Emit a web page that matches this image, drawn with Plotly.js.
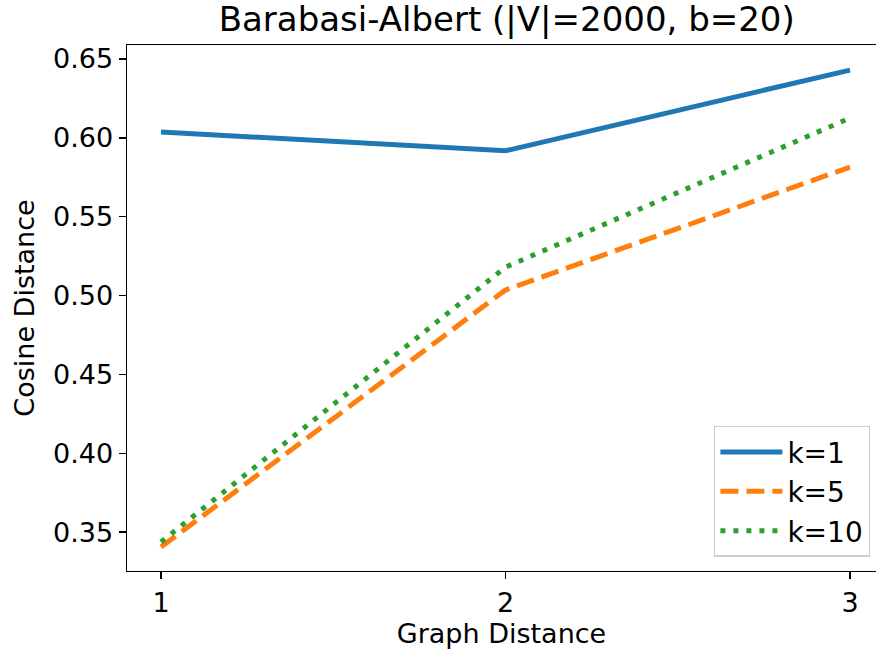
<!DOCTYPE html>
<html>
<head>
<meta charset="utf-8">
<script src="https://cdn.plot.ly/plotly-3.0.1.min.js"></script>
<style>html,body{margin:0;padding:0;background:#fff;}#chart{width:876px;height:651px;}</style>
</head>
<body>
<div id="chart"></div>
<script>
const graphDistance = [1, 2, 3];
const k1 = [0.6037, 0.5918, 0.6430];
const k5 = [0.3405, 0.5035, 0.5815];
const k10 = [0.3437, 0.5180, 0.6126];
const seriesNames = ["k=1", "k=5", "k=10"];
const yTicks = [0.35, 0.40, 0.45, 0.50, 0.55, 0.60, 0.65];
const xTicks = [1, 2, 3];

const font = "DejaVu Sans, sans-serif";
const traces = [
  {x: graphDistance, y: k1, name: seriesNames[0], mode: "lines",
   line: {color: "#1f77b4", width: 5}},
  {x: graphDistance, y: k5, name: seriesNames[1], mode: "lines",
   line: {color: "#ff7f0e", width: 5, dash: "18px,8px"}},
  {x: graphDistance, y: k10, name: seriesNames[2], mode: "lines",
   line: {color: "#2ca02c", width: 5, dash: "5px,8px"}}
];
const layout = {
  width: 876, height: 651,
  margin: {l: 127, r: 0, t: 45, b: 80},
  paper_bgcolor: "#fff", plot_bgcolor: "#fff",
  font: {family: font, color: "#000", size: 27},
  title: {text: "Barabasi-Albert (|V|=2000, b=20)", font: {size: 34, family: font},
          xref: "paper", x: 0.507, xanchor: "center", yref: "container", y: 0.971, yanchor: "middle"},
  xaxis: {range: [0.9013, 3.0755], tickvals: xTicks, ticktext: xTicks.map(String),
          showgrid: false, zeroline: false, showline: true, linecolor: "#000", linewidth: 1.4,
          mirror: true, ticks: "outside", ticklen: 7, tickwidth: 1.4, tickcolor: "#000",
          tickfont: {size: 27},
          title: {text: "Graph Distance", font: {size: 27}, standoff: 4}},
  yaxis: {range: [0.3253, 0.6589], tickvals: yTicks, ticktext: yTicks.map(v => v.toFixed(2)),
          showgrid: false, zeroline: false, showline: true, linecolor: "#000", linewidth: 1.4,
          mirror: false, ticks: "outside", ticklen: 7, tickwidth: 1.4, tickcolor: "#000",
          tickfont: {size: 27},
          title: {text: "Cosine Distance", font: {size: 27}, standoff: 10}},
  showlegend: true,
  legend: {x: 0.992, y: 0.027, xanchor: "right", yanchor: "bottom",
           bgcolor: "rgba(255,255,255,0.8)", bordercolor: "#cccccc", borderwidth: 1.4,
           font: {size: 28}, itemwidth: 62, tracegroupgap: 0}
};
Plotly.newPlot("chart", traces, layout, {displayModeBar: false, staticPlot: true});
</script>
</body>
</html>
